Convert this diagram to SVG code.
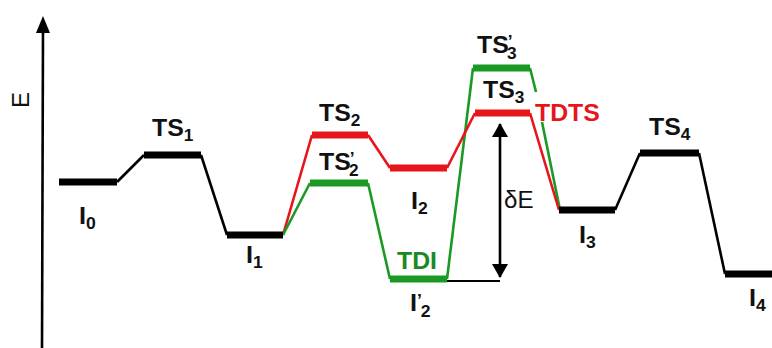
<svg xmlns="http://www.w3.org/2000/svg" width="772" height="348" viewBox="0 0 772 348">
<style>
.bar{stroke-width:7;stroke-linecap:butt}
.ln{stroke-width:2.6;fill:none;stroke-linejoin:round}
.r{stroke:#e8141c}
.g{stroke:#1a9a24}
.k{stroke:#000}
text{font-family:"Liberation Sans",Arial,sans-serif;font-weight:bold;font-size:23px;fill:#111}
.sub{font-size:16px}
.lbl{font-size:23px}
.red{fill:#e8141c}
.grn{fill:#1a8a22}
.norm{font-weight:normal}
.ax{font-weight:normal;font-size:24px}
</style>
<defs>
<marker id="ah" viewBox="0 0 14 16" refX="13" refY="8" markerWidth="14" markerHeight="16" markerUnits="userSpaceOnUse" orient="auto-start-reverse">
<path d="M0,0 L14,8 L0,16 Z" fill="#000"/>
</marker>
</defs>
<g id="axis">
<line x1="42" y1="348" x2="43" y2="30" stroke="#000" stroke-width="2.6"/>
<polygon points="43,16 36,33 50,33" fill="#000"/>
<text class="ax" transform="translate(29,100) rotate(-90)" text-anchor="middle">E</text>
</g>
<g id="connectors">
<polyline class="ln k" points="117,182 144,155"/>
<polyline class="ln k" points="201,155 227,235"/>
<polyline class="ln k" points="615,210 640,153"/>
<polyline class="ln k" points="699,153 725,274"/>
<polyline class="ln r" points="283,235 312,135"/>
<polyline class="ln r" points="368,135 390,168"/>
<polyline class="ln g" points="283,235 310,183"/>
<polyline class="ln g" points="368,183 390,279"/>
<polyline class="ln g" points="447,279 473,68"/>
<polyline class="ln r" points="447,168 475,113"/>
<polyline class="ln g" points="530,68 536,92"/>
<polyline class="ln g" points="542,122 560,210"/>
<polyline class="ln r" points="530,113 559,210"/>
<line x1="447" y1="281" x2="500" y2="281" stroke="#000" stroke-width="2"/>
<line x1="500" y1="124" x2="500" y2="277" stroke="#000" stroke-width="2.6" marker-start="url(#ah)" marker-end="url(#ah)"/>
</g>
<g id="I0"><line class="bar k" x1="59" y1="182" x2="117" y2="182"/>
<text class="lbl" transform="translate(79,224) scale(1.1,1)">I<tspan class="sub" dy="5">0</tspan></text></g>
<g id="TS1"><line class="bar k" x1="144" y1="155" x2="201" y2="155"/>
<text transform="translate(152,136) scale(1.08,1)">TS<tspan class="sub" dy="5">1</tspan></text></g>
<g id="I1"><line class="bar k" x1="227" y1="235" x2="283" y2="235"/>
<text class="lbl" transform="translate(246,263) scale(1.1,1)">I<tspan class="sub" dy="5">1</tspan></text></g>
<g id="TS2"><line class="bar r" x1="312" y1="135" x2="368" y2="135"/>
<text transform="translate(319,121) scale(1.08,1)">TS<tspan class="sub" dy="5">2</tspan></text></g>
<g id="TS2p"><line class="bar g" x1="310" y1="183" x2="368" y2="183"/>
<text transform="translate(319,170) scale(1.08,1)">TS<tspan class="sub" dx="-1" dy="-6">’</tspan><tspan class="sub" dx="-5" dy="12">2</tspan></text></g>
<g id="I2"><line class="bar r" x1="390" y1="168" x2="447" y2="168"/>
<text class="lbl" transform="translate(411,209) scale(1.1,1)">I<tspan class="sub" dy="5">2</tspan></text></g>
<g id="TDI"><line class="bar g" x1="390" y1="279" x2="447" y2="279"/>
<text class="grn" transform="translate(397,269) scale(1.08,1)">TDI</text>
<text class="lbl" transform="translate(410,311) scale(1.1,1)">I<tspan class="sub" dy="-5">’</tspan><tspan class="sub" dx="-1" dy="11">2</tspan></text></g>
<g id="TS3p"><line class="bar g" x1="473" y1="68" x2="530" y2="68"/>
<text transform="translate(477,53) scale(1.08,1)">TS<tspan class="sub" dx="-1" dy="-6">’</tspan><tspan class="sub" dx="-5" dy="12">3</tspan></text></g>
<g id="TS3"><line class="bar r" x1="475" y1="113" x2="530" y2="113"/>
<text transform="translate(483,98) scale(1.08,1)">TS<tspan class="sub" dy="5">3</tspan></text>
<text class="red" transform="translate(535,121) scale(1.08,1)">TDTS</text></g>
<g id="dE"><text class="norm" transform="translate(504,208) scale(1.05,1)">δE</text></g>
<g id="I3"><line class="bar k" x1="559" y1="210" x2="615" y2="210"/>
<text class="lbl" transform="translate(579,243) scale(1.1,1)">I<tspan class="sub" dy="5">3</tspan></text></g>
<g id="TS4"><line class="bar k" x1="640" y1="153" x2="699" y2="153"/>
<text transform="translate(649,135) scale(1.08,1)">TS<tspan class="sub" dy="5">4</tspan></text></g>
<g id="I4"><line class="bar k" x1="725" y1="274" x2="772" y2="274"/>
<text class="lbl" transform="translate(749,306) scale(1.1,1)">I<tspan class="sub" dy="5">4</tspan></text></g>
</svg>
